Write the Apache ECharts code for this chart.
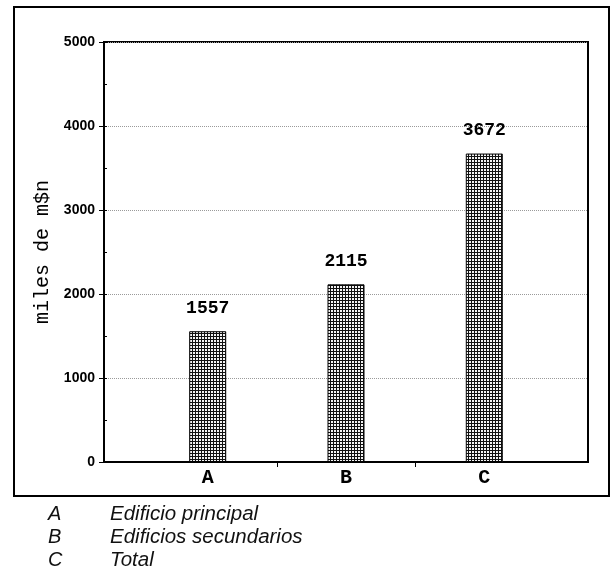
<!DOCTYPE html>
<html>
<head>
<meta charset="utf-8">
<script src="https://cdn.jsdelivr.net/npm/echarts@6/dist/echarts.min.js"></script>
<style>
  html, body { margin: 0; padding: 0; background: #fff; }
  #chart { width: 611px; height: 573px; }
</style>
</head>
<body>
<div id="chart"></div>
<script>
// Categories, values and legend text
const categories = ['A', 'B', 'C'];
const values = [1557, 2115, 3672];
const descriptions = ['Edificio principal', 'Edificios secundarios', 'Total'];
const yTicks = [0, 1000, 2000, 3000, 4000, 5000];
const yAxisTitle = 'miles de m$n';

// Cross-hatch tile used to fill the bars
function hatchTile() {
  const c = document.createElement('canvas');
  c.width = 3; c.height = 3;
  const g = c.getContext('2d');
  g.fillStyle = '#f4f4f4';
  g.fillRect(0, 0, 3, 3);
  g.fillStyle = '#111111';
  g.fillRect(0, 0, 3, 1);
  g.fillRect(0, 0, 1, 3);
  return c;
}

const chart = echarts.init(document.getElementById('chart'), null, { renderer: 'canvas' });

const legendItems = [];
categories.forEach((cat, i) => {
  const y = 514 + i * 23;
  legendItems.push({
    type: 'text', left: 48, top: y - 10,
    style: { text: cat, font: 'italic 20px "Liberation Sans", Arial, sans-serif', fill: '#111' }
  });
  legendItems.push({
    type: 'text', left: 110, top: y - 10,
    style: { text: descriptions[i], font: 'italic 20.5px "Liberation Sans", Arial, sans-serif', fill: '#111' }
  });
});

const option = {
  backgroundColor: '#fff',
  animation: false,
  grid: {
    left: 104, right: 23, top: 42, bottom: 111,
    show: true, borderColor: '#000', borderWidth: 2
  },
  xAxis: {
    type: 'value',
    min: 0.25, max: 3.75,
    axisLine: { show: true, lineStyle: { color: '#000', width: 2 } },
    axisTick: { show: true, customValues: [1.5, 2.5], length: 5, lineStyle: { color: '#000', width: 1 } },
    axisLabel: {
      customValues: [1, 2, 3],
      formatter: v => categories[Math.round(v) - 1] || '',
      fontFamily: '"Liberation Mono", "Courier New", monospace',
      fontWeight: 'bold', fontSize: 20, color: '#000', margin: 6
    },
    splitLine: { show: false }
  },
  yAxis: [{
    type: 'value',
    min: yTicks[0], max: yTicks[yTicks.length - 1], interval: 1000,
    name: yAxisTitle,
    nameLocation: 'middle',
    nameGap: 48,
    nameTextStyle: {
      fontFamily: '"Liberation Mono", "Courier New", monospace',
      fontSize: 20, color: '#000'
    },
    axisLine: { show: true, lineStyle: { color: '#000', width: 2 } },
    axisTick: { show: true, length: 5, lineStyle: { color: '#000' } },
    axisLabel: {
      formatter: v => String(v),
      fontFamily: '"Liberation Sans", Arial, sans-serif',
      fontWeight: 'bold', fontSize: 14, color: '#000', margin: 9
    },
    splitLine: { show: true, lineStyle: { color: '#9a9a9a', width: 1, type: 'dotted' } }
  }, {
    // inner half-step ticks on the value axis
    type: 'value', position: 'left',
    min: yTicks[0], max: yTicks[yTicks.length - 1], interval: 500,
    axisLine: { show: false },
    axisTick: { show: true, inside: true, length: 3, lineStyle: { color: '#000' } },
    axisLabel: { show: false },
    splitLine: { show: false }
  }],
  series: [{
    type: 'bar',
    barWidth: 37,
    data: values.map((v, i) => [i + 1, v]),
    itemStyle: {
      color: { image: hatchTile(), repeat: 'repeat' },
      borderColor: '#000', borderWidth: 1
    },
    label: {
      show: true, position: 'top', distance: 14,
      formatter: p => String(p.value[1]),
      fontFamily: '"Liberation Mono", "Courier New", monospace',
      fontWeight: 'bold', fontSize: 18, color: '#000'
    }
  }],
  graphic: [{
    type: 'rect',
    shape: { x: 14, y: 7, width: 595, height: 489 },
    style: { fill: 'none', stroke: '#000', lineWidth: 2 },
    silent: true
  }].concat(legendItems)
};

chart.setOption(option);
</script>
</body>
</html>
